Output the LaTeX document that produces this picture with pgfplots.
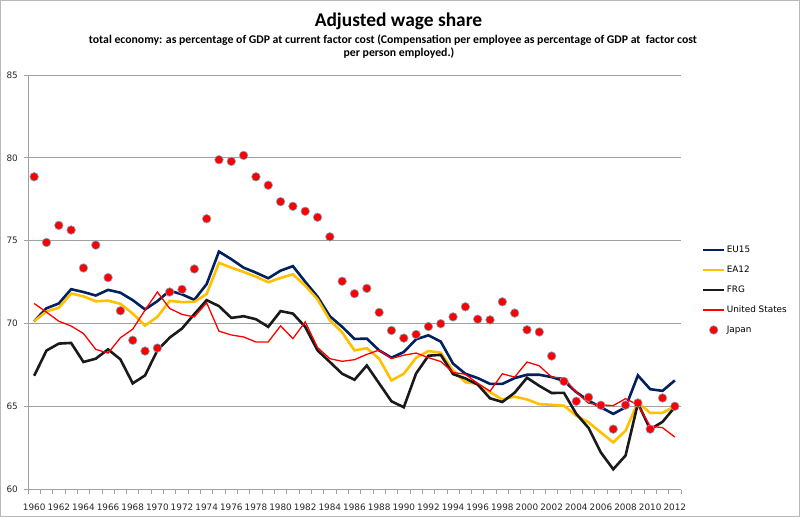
\documentclass[border=0pt]{standalone}
\usepackage{pgfplots}
\usepackage{pgfplotstable}
\pgfplotsset{compat=1.18}
\usepackage{fontspec}
\setmainfont{Carlito}
\newfontfamily\dejavu{DejaVu Sans}
\definecolor{eunavy}{RGB}{0,32,96}
\definecolor{eagold}{RGB}{255,192,0}
\definecolor{frgblack}{RGB}{26,26,26}
\definecolor{usred}{RGB}{255,0,0}
\definecolor{gridgray}{RGB}{160,160,160}
\definecolor{dotedge}{RGB}{120,175,205}
\pgfplotstableread{
year eu ea frg us jp
1960 70.15 70.15 66.86 71.22 78.86
1961 70.93 70.74 68.38 70.70 74.90
1962 71.22 70.96 68.80 70.15 75.93
1963 72.08 71.82 68.84 69.86 75.65
1964 71.91 71.65 67.69 69.41 73.36
1965 71.70 71.35 67.89 68.45 74.74
1966 72.04 71.39 68.45 68.23 72.78
1967 71.87 71.20 67.85 69.15 70.78
1968 71.42 70.61 66.40 69.67 69.00
1969 70.86 69.89 66.88 70.82 68.35
1970 71.36 70.41 68.39 71.91 68.53
1971 71.99 71.38 69.16 70.92 71.91
1972 71.77 71.30 69.71 70.56 72.07
1973 71.44 71.32 70.58 70.41 73.30
1974 72.39 71.79 71.42 71.26 76.33
1975 74.35 73.67 71.06 69.55 79.89
1976 73.89 73.38 70.35 69.32 79.79
1977 73.38 73.12 70.45 69.20 80.15
1978 73.08 72.84 70.27 68.90 78.86
1979 72.74 72.50 69.81 68.90 78.35
1980 73.20 72.76 70.76 69.87 77.36
1981 73.47 72.98 70.61 69.10 77.08
1982 72.53 72.29 69.81 70.11 76.78
1983 71.63 71.47 68.39 68.56 76.42
1984 70.45 70.21 67.69 67.89 75.24
1985 69.81 69.47 66.98 67.73 72.56
1986 69.08 68.39 66.62 67.83 71.81
1987 69.10 68.52 67.48 68.15 72.13
1988 68.39 67.89 66.40 68.41 70.68
1989 67.95 66.58 65.32 67.90 69.59
1990 68.29 66.98 64.96 68.10 69.13
1991 69.06 67.95 67.00 68.23 69.35
1992 69.30 68.35 68.07 67.95 69.83
1993 68.92 68.25 68.12 67.72 70.00
1994 67.59 67.18 66.96 67.06 70.41
1995 66.98 66.47 66.70 66.95 71.02
1996 66.72 66.37 66.33 66.40 70.27
1997 66.37 65.87 65.50 65.93 70.23
1998 66.37 65.43 65.28 66.98 71.32
1999 66.72 65.60 65.84 66.78 70.64
2000 66.92 65.43 66.74 67.69 69.63
2001 66.92 65.15 66.25 67.46 69.50
2002 66.78 65.11 65.82 66.78 68.05
2003 66.55 65.05 65.83 66.72 66.52
2004 65.87 64.45 64.56 65.87 65.32
2005 65.36 64.05 63.71 65.20 65.56
2006 64.96 63.44 62.23 65.11 65.08
2007 64.56 62.84 61.22 65.06 63.64
2008 64.96 63.55 62.05 65.48 65.09
2009 66.88 65.26 65.20 65.10 65.22
2010 66.05 64.62 63.63 63.82 63.64
2011 65.95 64.62 64.08 63.73 65.52
2012 66.58 65.02 64.97 63.16 65.02
}\datatable
\begin{document}
\begin{tikzpicture}
\useasboundingbox (0,0) rectangle (800bp,517bp);
\draw[gray!55, line width=1bp] (0.5bp,0.5bp) rectangle (799.5bp,516.5bp);
\node[anchor=base, font=\bfseries\fontsize{19.5}{22}\selectfont, inner sep=0pt] at (398.5bp,490.3bp) {Adjusted wage share};
\node[anchor=base, font=\bfseries\fontsize{11.8}{13}\selectfont, inner sep=0pt] at (393bp,473.7bp) {total economy: as percentage of GDP at current factor cost (Compensation per employee as percentage of GDP at \ factor cost};
\node[anchor=base, font=\bfseries\fontsize{11.8}{13}\selectfont, inner sep=0pt] at (399bp,460.3bp) {per person employed.)};
\begin{axis}[
  at={(28bp,27.5bp)}, anchor=south west,
  scale only axis, width=653bp, height=414.5bp,
  xmin=1959.5, xmax=2012.5, ymin=60, ymax=85,
  axis lines*=left,
  axis line style={gridgray, line width=0.9bp},
  xtick={1960,1962,...,2012},
  minor xtick={1959.5,1960.5,...,2012.5},
  ytick={60,65,...,85},
  x tick label style={/pgf/number format/1000 sep={}},
  /pgf/number format/assume math mode=true,
  tick label style={font=\dejavu\fontsize{8.9}{10}\selectfont, text=black!85},
  xticklabel style={inner sep=0pt, yshift=-10bp},
  yticklabel style={inner sep=0pt, xshift=-6bp},
  tick align=outside,
  major x tick style={draw=none},
  minor tick length=4bp,
  major tick length=4bp,
  tick style={gridgray, line width=0.8bp},
  ymajorgrids, grid style={gridgray, line width=0.9bp},
  clip=false,
  legend style={at={(1.0315,0.4813)}, anchor=west, draw=none, fill=none, inner sep=0pt, outer sep=0pt,
    font=\dejavu\fontsize{8.9}{10}\selectfont, row sep=9.9bp,
    nodes={inner sep=1bp}},
  legend cell align=left,
  legend image code/.code={\draw[mark repeat=2, mark phase=2, #1] plot coordinates {(0bp,0bp) (10.8bp,0bp) (21.6bp,0bp)};},
]
\addplot[eunavy, line width=2.6bp] table[x=year, y=eu] {\datatable};
\addlegendentry{EU15}
\addplot[eagold, line width=2.6bp] table[x=year, y=ea] {\datatable};
\addlegendentry{EA12}
\addplot[frgblack, line width=2.6bp] table[x=year, y=frg] {\datatable};
\addlegendentry{FRG}
\addplot[usred, line width=1.3bp] table[x=year, y=us] {\datatable};
\addlegendentry{United States}
\addplot[only marks, mark=*, mark size=4.3bp, mark options={fill=usred, draw=dotedge, line width=0.6bp}] table[x=year, y=jp] {\datatable};
\addlegendentry{Japan}
\end{axis}
\end{tikzpicture}
\end{document}
